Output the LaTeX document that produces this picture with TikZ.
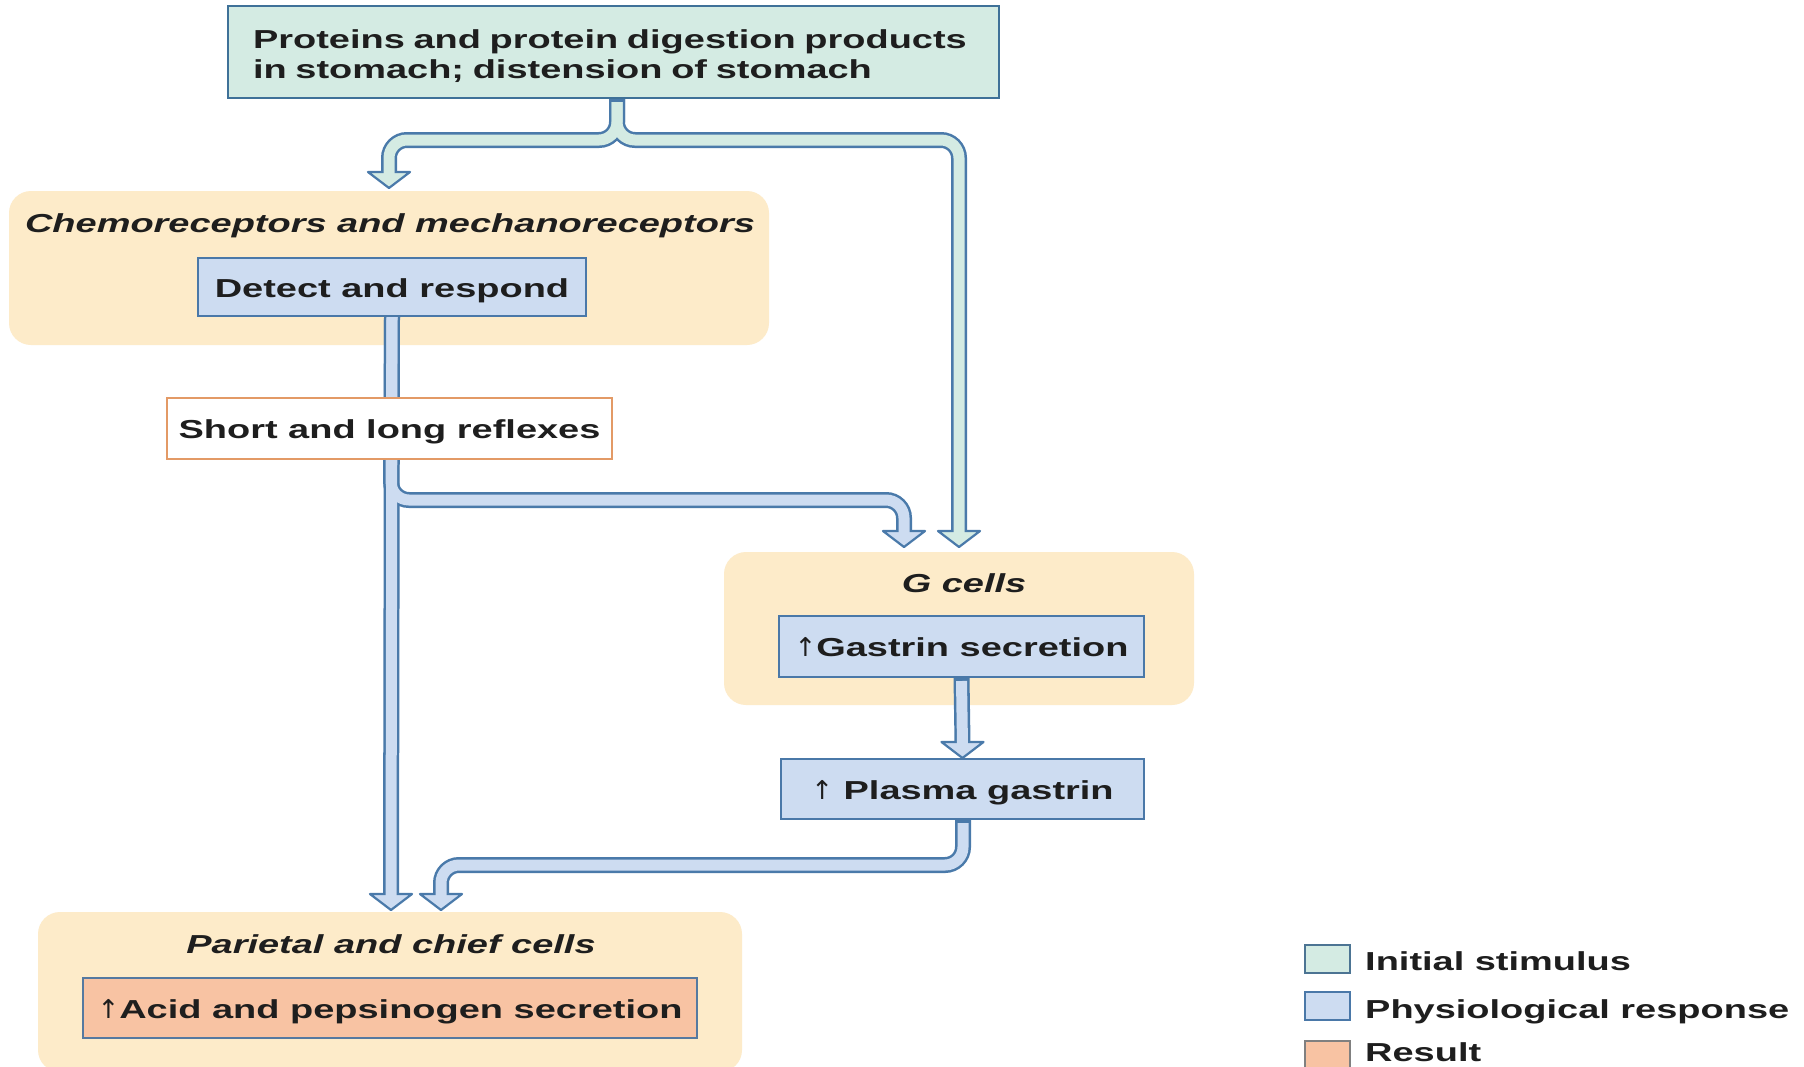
\documentclass[tikz,border=0pt]{standalone}
\usepackage{fontspec}
\setmainfont{Liberation Sans}[FakeStretch=1.46]
\newfontfamily\arrowfont{DejaVu Sans}
\usetikzlibrary{calc}
\pgfdeclarelayer{backlayer}
\pgfdeclarelayer{regionlayer}
\pgfdeclarelayer{arrowlayer}
\pgfsetlayers{backlayer,regionlayer,arrowlayer,main}
\definecolor{tealfill}{HTML}{D4EBE3}
\definecolor{bluefill}{HTML}{CDDCF1}
\definecolor{boxborder}{HTML}{4A78A8}
\definecolor{tealborder}{HTML}{3F7198}
\definecolor{regionfill}{HTML}{FDEBC9}
\definecolor{orangeborder}{HTML}{E39A66}
\definecolor{salmon}{HTML}{F8C3A3}
\definecolor{txt}{HTML}{1E1E1E}
\definecolor{arrowborder}{HTML}{4A7AAA}
\newcommand\ahead[3]{\filldraw[fill=#2,draw=#3,line width=2.2,line join=round]
  ($(#1)+(-21,-16)$) -- ($(#1)+(21,-16)$) -- (#1) -- cycle;}
\newcommand\upar{{\arrowfont\mdseries ↑}}
\begin{document}
\begin{tikzpicture}[x=1pt,y=-1pt,
  every node/.style={text=txt,font=\fontsize{26}{30}\selectfont\bfseries},
  oneline/.style={text height=22.5,text depth=2},
  region/.style={fill=regionfill,rounded corners=22,inner sep=0},
  stepbox/.style={draw=boxborder,fill=bluefill,line width=2,inner sep=0,oneline},
  titletext/.style={font=\fontsize{26}{30}\selectfont\bfseries\itshape,oneline},
  bord/.style={line width=16,draw=arrowborder,rounded corners=18},
  tealfil/.style={line width=11,draw=tealfill,rounded corners=18},
  bluefil/.style={line width=11,draw=bluefill,rounded corners=18},
  legsq/.style={line width=2,inner sep=0,minimum width=45,minimum height=28}
]
\useasboundingbox (0,0) rectangle (1804,1066);
\begin{pgfonlayer}{backlayer}
\fill[white] (0,0) rectangle (1804,1066);
\end{pgfonlayer}

% regions
\begin{pgfonlayer}{regionlayer}
\node[region,minimum width=760,minimum height=154] (chemo) at (389,268) {};
\node[region,minimum width=470,minimum height=153] (gcells) at (959,628.5) {};
\node[region,minimum width=704,minimum height=160] (parietal) at (390,992) {};
\end{pgfonlayer}

% boxes
\node[draw=tealborder,fill=tealfill,line width=2,text width=721,inner xsep=25,inner ysep=0,
  minimum height=92,align=left] (top) at (613.5,52)
  {\rule{0pt}{27pt}Proteins and protein digestion products\\in stomach; distension of stomach};
\node[titletext] (chemotitle) at (390,222) {Chemoreceptors and mechanoreceptors};
\node[stepbox,minimum width=388,minimum height=58] (detect) at (392,287) {Detect and respond};
\node[draw=orangeborder,fill=white,line width=2,inner sep=0,minimum width=445,minimum height=61,oneline]
  (reflex) at (389.5,428.5) {Short and long reflexes};
\node[titletext] (gtitle) at (964,582) {G cells};
\node[stepbox,minimum width=365,minimum height=61] (gastrin) at (961.5,646.5)
  {\upar Gastrin secretion};
\node[stepbox,minimum width=363,minimum height=60] (plasma) at (962.5,789)
  {\upar\ Plasma gastrin};
\node[titletext] (ptitle) at (391,943) {Parietal and chief cells};
\node[draw=boxborder!80!gray,fill=salmon,line width=2,inner sep=0,minimum width=614,minimum height=60,oneline]
  (acid) at (390,1008) {\upar Acid and pepsinogen secretion};

% legend
\node[legsq,draw=tealborder!80!gray,fill=tealfill] (lg1) at (1327.5,959) {};
\node[legsq,draw=boxborder,fill=bluefill] (lg2) at (1327.5,1006) {};
\node[legsq,draw=gray,fill=salmon] (lg3) at (1327.5,1055) {};
\node[anchor=west,inner sep=0,oneline] (lt1) at (1365,960) {Initial stimulus};
\node[anchor=west,inner sep=0,oneline] (lt2) at (1365,1008) {Physiological response};
\node[anchor=west,inner sep=0,oneline] (lt3) at (1365,1051) {Result};

% connector coordinates
\coordinate (trunk) at ([xshift=3.5]top.south);
\coordinate (split) at (617,140);
\coordinate (t1) at (389,188);
\coordinate (t2) at (959,547);
\coordinate (t3) at (904,547);
\coordinate (t4) at (391,910);
\coordinate (t5) at (plasma.north);
\coordinate (t6) at (441,910);
\coordinate (br) at (391,500);
\coordinate (pb) at (963,865);

\begin{pgfonlayer}{arrowlayer}
% borders
\draw[bord] (trunk) -- (split) -- (split -| t1) -- ($(t1)+(0,-16)$);
\draw[bord] (trunk) -- (split) -- (split -| t2) -- ($(t2)+(0,-16)$);
\draw[bord] (detect.south) -- (br) -- (br -| t3) -- ($(t3)+(0,-16)$);
\draw[bord] (detect.south) -- ($(t4)+(0,-16)$);
\draw[bord] (gastrin.south) -- ($(t5)+(0,-16)$);
\draw[bord] ([xshift=0.5]plasma.south) -- (pb) -- (pb -| t6) -- ($(t6)+(0,-16)$);
% heads
\ahead{t1}{tealfill}{arrowborder}
\ahead{t2}{tealfill}{arrowborder}
\ahead{t3}{bluefill}{arrowborder}
\ahead{t4}{bluefill}{arrowborder}
\ahead{t5}{bluefill}{arrowborder}
\ahead{t6}{bluefill}{arrowborder}
% fills
\draw[tealfil] ([yshift=-3]trunk) -- (split) -- (split -| t1) -- ($(t1)+(0,-13)$);
\draw[tealfil] ([yshift=-3]trunk) -- (split) -- (split -| t2) -- ($(t2)+(0,-13)$);
\draw[bluefil] (detect.south) -- (br) -- (br -| t3) -- ($(t3)+(0,-13)$);
\draw[bluefil] (detect.south) -- ($(t4)+(0,-13)$);
\draw[bluefil] ([yshift=-3]gastrin.south) -- ($(t5)+(0,-13)$);
\draw[bluefil] ([xshift=0.5,yshift=-3]plasma.south) -- (pb) -- (pb -| t6) -- ($(t6)+(0,-13)$);
\end{pgfonlayer}
\end{tikzpicture}
\end{document}
